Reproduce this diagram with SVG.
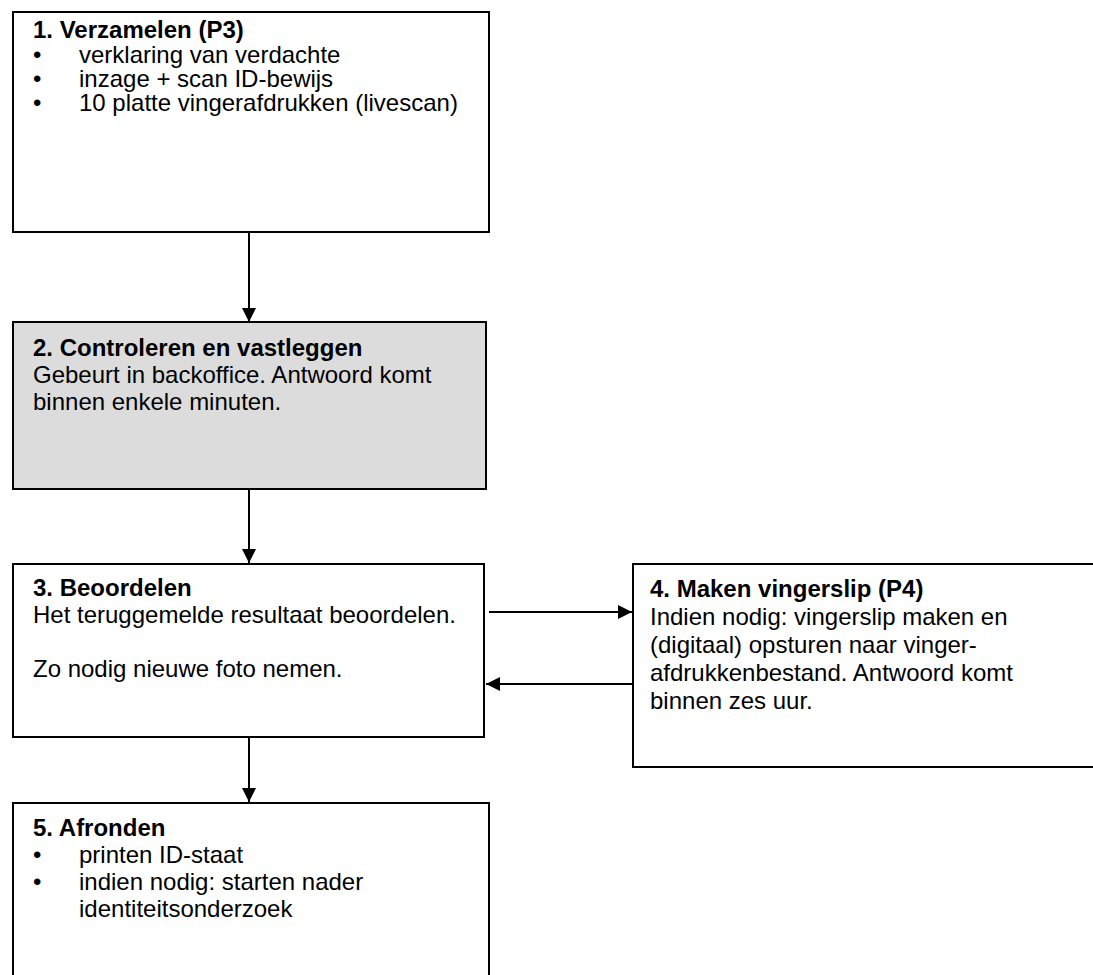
<svg xmlns="http://www.w3.org/2000/svg" width="1093" height="975" viewBox="0 0 1093 975">
<defs>
<style>
.box{fill:#ffffff;stroke:#000000;stroke-width:2}
.grey{fill:#dcdcdc}
.t{font-family:"Liberation Sans",Arial,sans-serif;font-size:24px;fill:#000000}
.b{font-weight:bold}
.c{stroke:#000000;stroke-width:2;fill:none}
</style>
<marker id="ah" viewBox="0 0 14 14" refX="14" refY="7" markerWidth="14" markerHeight="14" markerUnits="userSpaceOnUse" orient="auto">
<path d="M0,0 L14,7 L0,14 Z" fill="#000000"/>
</marker>
</defs>
<rect width="1093" height="975" fill="#ffffff"/>

<g id="connectors">
<line class="c" x1="249" y1="233" x2="249" y2="322" marker-end="url(#ah)"/>
<line class="c" x1="249" y1="490" x2="249" y2="563" marker-end="url(#ah)"/>
<line class="c" x1="489" y1="612" x2="632" y2="612" marker-end="url(#ah)"/>
<line class="c" x1="632" y1="684" x2="486" y2="684" marker-end="url(#ah)"/>
<line class="c" x1="249" y1="738" x2="249" y2="802" marker-end="url(#ah)"/>
</g>

<g id="node1">
<rect class="box" x="13" y="12" width="476" height="220"/>
<text class="t b" x="33" y="38">1. Verzamelen (P3)</text>
<text class="t" x="33" y="63">•</text><text class="t" x="79" y="63">verklaring van verdachte</text>
<text class="t" x="33" y="87">•</text><text class="t" x="79" y="87">inzage + scan ID-bewijs</text>
<text class="t" x="33" y="111">•</text><text class="t" x="79" y="111">10 platte vingerafdrukken (livescan)</text>
</g>

<g id="node2">
<rect class="box grey" x="13" y="322" width="473" height="167"/>
<text class="t b" x="33" y="356">2. Controleren en vastleggen</text>
<text class="t" x="33" y="383">Gebeurt in backoffice. Antwoord komt</text>
<text class="t" x="33" y="410">binnen enkele minuten.</text>
</g>

<g id="node3">
<rect class="box" x="13" y="564" width="471" height="173"/>
<text class="t b" x="33" y="596">3. Beoordelen</text>
<text class="t" x="33" y="623">Het teruggemelde resultaat beoordelen.</text>
<text class="t" x="33" y="677">Zo nodig nieuwe foto nemen.</text>
</g>

<g id="node4">
<rect class="box" x="633" y="564" width="480" height="203"/>
<text class="t b" x="650" y="597">4. Maken vingerslip (P4)</text>
<text class="t" x="650" y="625">Indien nodig: vingerslip maken en</text>
<text class="t" x="650" y="653">(digitaal) opsturen naar vinger-</text>
<text class="t" x="650" y="681">afdrukkenbestand. Antwoord komt</text>
<text class="t" x="650" y="709">binnen zes uur.</text>
</g>

<g id="node5">
<rect class="box" x="13" y="803" width="476" height="190"/>
<text class="t b" x="33" y="836">5. Afronden</text>
<text class="t" x="33" y="863">•</text><text class="t" x="79" y="863">printen ID-staat</text>
<text class="t" x="33" y="890">•</text><text class="t" x="79" y="890">indien nodig: starten nader</text>
<text class="t" x="79" y="917">identiteitsonderzoek</text>
</g>
</svg>
